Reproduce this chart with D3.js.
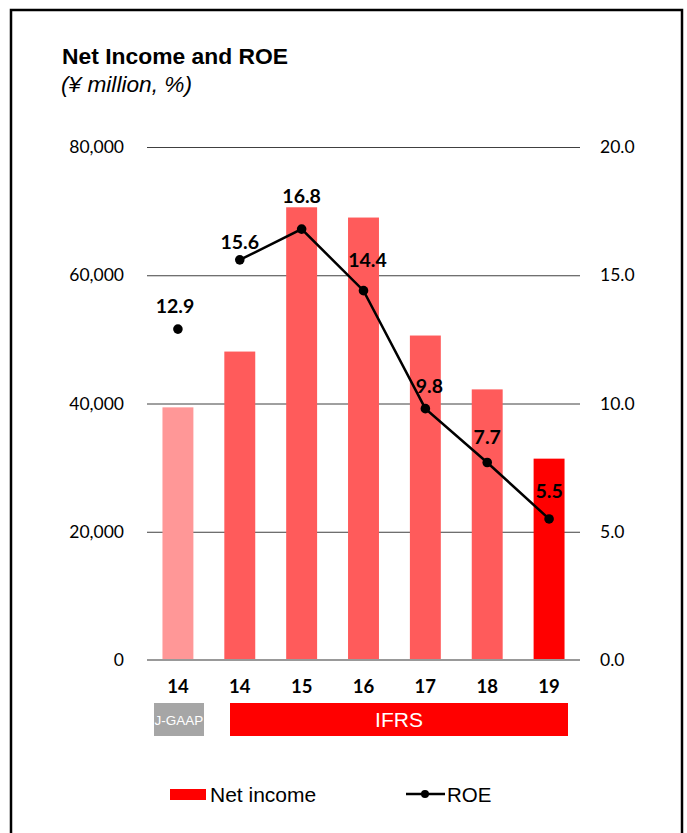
<!DOCTYPE html>
<html>
<head>
<meta charset="utf-8">
<script src="https://cdn.jsdelivr.net/npm/d3@7"></script>
<style>
  html, body { margin: 0; padding: 0; background: #fff; }
  svg { display: block; }
</style>
</head>
<body>
<svg id="chart" width="687" height="833"></svg>
<script>
// Fiscal years (first 14 is reported under J-GAAP, the rest under IFRS)
const categories = ["14 (J-GAAP)", "14", "15", "16", "17", "18", "19"];
const yearLabels = ["14", "14", "15", "16", "17", "18", "19"];
const netIncome = [39400, 48100, 70600, 69000, 50600, 42200, 31400];   // ¥ million
const roe = [12.9, 15.6, 16.8, 14.4, 9.8, 7.7, 5.5];                   // %
const leftTicks = [0, 20000, 40000, 60000, 80000];
const rightTicks = [0, 5, 10, 15, 20];

const svg = d3.select("#chart");
const labelFont = "Lato, 'Open Sans', sans-serif";
const textFont = "'Liberation Sans', Arial, sans-serif";

// outer frame
svg.append("rect")
  .attr("x", 11).attr("y", 10).attr("width", 671).attr("height", 840)
  .attr("fill", "none").attr("stroke", "#000").attr("stroke-width", 2.5);

// titles
svg.append("text").attr("x", 62).attr("y", 64)
  .attr("font-family", textFont).attr("font-weight", "bold").attr("font-size", 21.5)
  .attr("textLength", 226).attr("lengthAdjust", "spacingAndGlyphs")
  .attr("fill", "#000").text("Net Income and ROE");
svg.append("text").attr("x", 61).attr("y", 92)
  .attr("font-family", textFont).attr("font-style", "italic").attr("font-size", 21.5)
  .attr("textLength", 131).attr("lengthAdjust", "spacingAndGlyphs")
  .attr("fill", "#000").text("(¥ million, %)");

const plot = { left: 147, right: 580, top: 147, bottom: 660 };

const x = d3.scaleBand().domain(categories)
  .range([plot.left, plot.right]).paddingInner(0.5).paddingOuter(0.25);
const yL = d3.scaleLinear().domain([0, 80000]).range([plot.bottom, plot.top]);
const yR = d3.scaleLinear().domain([0, 20]).range([plot.bottom, plot.top]);

// gridlines
svg.append("g").selectAll("line").data(leftTicks.filter(d => d > 0)).join("line")
  .attr("x1", plot.left).attr("x2", plot.right)
  .attr("y1", d => yL(d) + 0.5).attr("y2", d => yL(d) + 0.5)
  .attr("stroke", "#404040").attr("stroke-width", 1);

// left axis
const leftAxis = svg.append("g").attr("transform", `translate(${plot.left - 23},0)`)
  .call(d3.axisLeft(yL).tickValues(leftTicks).tickSize(0).tickPadding(0)
    .tickFormat(d3.format(",")));
leftAxis.select(".domain").remove();
leftAxis.selectAll("text").attr("font-family", labelFont).attr("font-size", 17.5)
  .attr("fill", "#000");

// right axis
const rightAxis = svg.append("g").attr("transform", `translate(${plot.right + 20},0)`)
  .call(d3.axisRight(yR).tickValues(rightTicks).tickSize(0).tickPadding(0)
    .tickFormat(d3.format(".1f")));
rightAxis.select(".domain").remove();
rightAxis.selectAll("text").attr("font-family", labelFont).attr("font-size", 17.5)
  .attr("fill", "#000");

// bars
const barColor = (d, i) => i === 0 ? "#FF9797" : (i === categories.length - 1 ? "#FF0000" : "#FF5B5B");
svg.append("g").selectAll("rect").data(netIncome).join("rect")
  .attr("x", (d, i) => x(categories[i]))
  .attr("width", x.bandwidth())
  .attr("y", d => yL(d))
  .attr("height", d => yL(0) - yL(d))
  .attr("fill", barColor);

// baseline
svg.append("line")
  .attr("x1", plot.left).attr("x2", plot.right)
  .attr("y1", yL(0)).attr("y2", yL(0))
  .attr("stroke", "#999").attr("stroke-width", 2);

// ROE line (IFRS years are connected; J-GAAP 14 stands alone)
const cx = i => x(categories[i]) + x.bandwidth() / 2;
const line = d3.line().x(d => cx(d.i)).y(d => yR(d.v));
const ifrsPts = roe.map((v, i) => ({ v, i })).slice(1);
svg.append("path").datum(ifrsPts).attr("d", line)
  .attr("fill", "none").attr("stroke", "#000").attr("stroke-width", 2.5);
svg.append("g").selectAll("circle").data(roe).join("circle")
  .attr("cx", (d, i) => cx(i)).attr("cy", d => yR(d)).attr("r", 4.8).attr("fill", "#000");

// ROE labels
const labelLift = [16, 11, 26, 24, 16, 18, 21];
svg.append("g").selectAll("text").data(roe).join("text")
  .attr("x", (d, i) => cx(i) + (i === 3 || i === 4 ? 4 : (i === 0 ? -3 : 0)))
  .attr("y", (d, i) => yR(d) - labelLift[i])
  .attr("text-anchor", "middle")
  .attr("font-family", labelFont).attr("font-weight", "bold").attr("font-size", 19.5)
  .attr("fill", "#000").text(d => d3.format(".1f")(d));

// year labels
svg.append("g").selectAll("text").data(yearLabels).join("text")
  .attr("x", (d, i) => cx(i)).attr("y", 693)
  .attr("text-anchor", "middle")
  .attr("font-family", labelFont).attr("font-weight", "bold").attr("font-size", 18.5)
  .attr("fill", "#000").text(d => d);

// accounting standard boxes
svg.append("rect").attr("x", 154).attr("y", 703).attr("width", 50).attr("height", 33)
  .attr("fill", "#A6A6A6");
svg.append("text").attr("x", 179).attr("y", 725).attr("text-anchor", "middle")
  .attr("font-family", textFont).attr("font-size", 13.5).attr("fill", "#fff").text("J-GAAP");
svg.append("rect").attr("x", 230).attr("y", 703).attr("width", 338).attr("height", 33)
  .attr("fill", "#FF0000");
svg.append("text").attr("x", 399).attr("y", 727).attr("text-anchor", "middle")
  .attr("font-family", textFont).attr("font-size", 21).attr("fill", "#fff").text("IFRS");

// legend
svg.append("rect").attr("x", 170).attr("y", 789).attr("width", 36).attr("height", 11)
  .attr("fill", "#FF0000");
svg.append("text").attr("x", 210).attr("y", 802)
  .attr("font-family", textFont).attr("font-size", 21).attr("fill", "#000").text("Net income");
svg.append("line").attr("x1", 406).attr("x2", 445).attr("y1", 794).attr("y2", 794)
  .attr("stroke", "#000").attr("stroke-width", 2.5);
svg.append("circle").attr("cx", 425).attr("cy", 794).attr("r", 4).attr("fill", "#000");
svg.append("text").attr("x", 447).attr("y", 802)
  .attr("font-family", textFont).attr("font-size", 20.5).attr("fill", "#000").text("ROE");
</script>
</body>
</html>
